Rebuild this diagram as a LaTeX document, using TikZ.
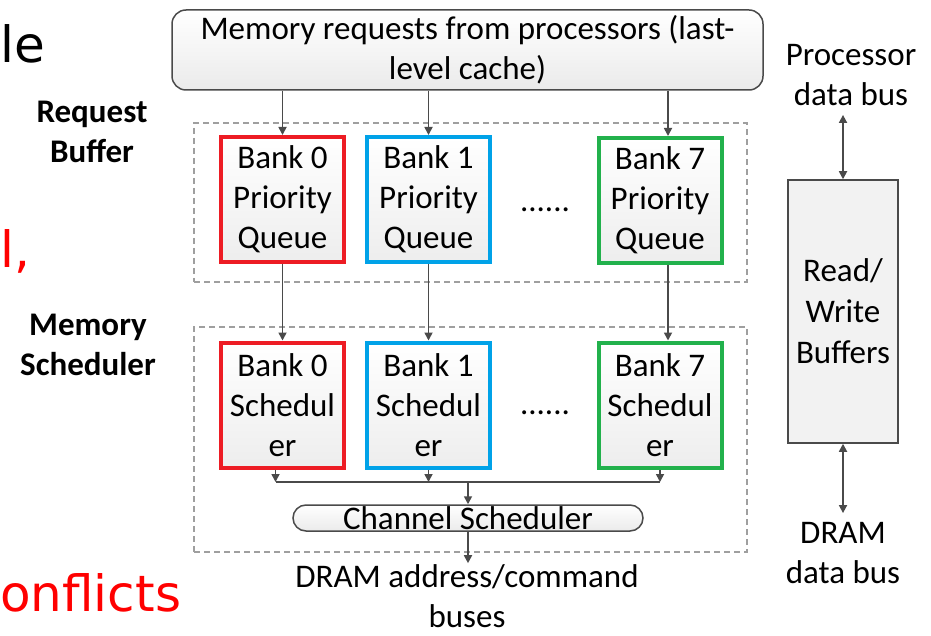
\documentclass[tikz,border=0pt]{standalone}
\usepackage{fontspec}
\usepackage{tikz}
\usepackage{xcolor}
\usetikzlibrary{arrows.meta}
\setmainfont{Carlito}
\newfontfamily\slidefont{DejaVu Sans}
\definecolor{bankred}{HTML}{ED1C24}
\definecolor{bankblue}{HTML}{00A2E8}
\definecolor{bankgreen}{HTML}{22B14C}
\definecolor{wiregray}{HTML}{4A4A4A}
\tikzset{
    bank-box/.style = {draw=#1, line width=4pt, top color=white, bottom color=gray!14, rectangle, minimum width=123pt, minimum height=125pt, inner sep=0pt, align=center, font=\fontsize{33}{40}\selectfont},
    top-box/.style = {draw=wiregray, line width=1.5pt, top color=white, bottom color=gray!16, rectangle, rounded corners=14pt, minimum width=591pt, minimum height=80pt, inner sep=0pt, align=center, font=\fontsize{33}{40}\selectfont},
    pill-box/.style = {draw=wiregray, line width=1.5pt, top color=white, bottom color=gray!16, rectangle, rounded corners=13pt, minimum width=350pt, text height=24pt, text depth=2pt, inner sep=0pt, font=\fontsize{33}{40}\selectfont},
    buffer-box/.style = {draw=wiregray, line width=1.5pt, fill=gray!10, rectangle, minimum width=110pt, minimum height=263pt, inner sep=0pt, align=center, font=\fontsize{33}{41}\selectfont},
    dash-frame/.style = {draw=gray!75, line width=1.2pt, dash pattern=on 6pt off 4pt, rectangle, inner sep=0pt},
    side-label/.style = {align=center, inner sep=0pt, font=\fontsize{33}{40}\selectfont\bfseries},
    bus-label/.style = {align=center, inner sep=9pt, font=\fontsize{33}{40}\selectfont},
    link/.style = {draw=wiregray, line width=1.7pt, -{Triangle[length=8pt,width=8pt]}},
    both-link/.style = {draw=wiregray, line width=1.7pt, {Triangle[length=8pt,width=8pt]}-{Triangle[length=8pt,width=8pt]}},
    wire/.style = {draw=wiregray, line width=1.7pt},
    slide-text/.style = {anchor=base west, inner sep=0pt, font=\fontsize{50}{56}\slidefont},
}
\begin{document}
\begin{tikzpicture}[x=1pt, y=-1pt]
\useasboundingbox (0,0) rectangle (931,636);

\node[slide-text] (frag-le) at (0,63) {le};
\node[slide-text, text=red] (frag-l) at (0,267) {l,};
\node[slide-text, text=red] (frag-conf) at (0,611) {onflicts};

\node[dash-frame, minimum width=553pt, minimum height=159pt] (rb-frame) at (470.5,202.5) {};
\node[dash-frame, minimum width=553pt, minimum height=225pt] (ms-frame) at (470.5,439.5) {};

\node[top-box] (req) at (467.5,50) {Memory requests from processors (last-\\level cache)};

\node[side-label] (rb-label) at (92,132) {Request\\Buffer};
\node[side-label] (ms-label) at (88,345) {Memory\\Scheduler};

\node[bank-box=bankred] (pq0) at (282.5,199.5) {Bank 0\\Priority\\Queue};
\node[bank-box=bankblue] (pq1) at (428.5,199.5) {Bank 1\\Priority\\Queue};
\node[bank-box=bankgreen] (pq7) at (660,200.5) {Bank 7\\Priority\\Queue};
\node[font=\fontsize{33}{40}\selectfont, inner sep=0pt] (pq-dots) at (545,210) {......};

\node[bank-box=bankred] (sched0) at (282.5,405) {Bank 0\\Schedul\\er};
\node[bank-box=bankblue] (sched1) at (428.5,405) {Bank 1\\Schedul\\er};
\node[bank-box=bankgreen] (sched7) at (660,405) {Bank 7\\Schedul\\er};
\node[font=\fontsize{33}{40}\selectfont, inner sep=0pt] (sched-dots) at (545,413) {......};

\node[pill-box] (chs) at (468,518) {Channel Scheduler};
\node[bus-label, inner sep=1pt] (cmd-bus) at (467,596) {DRAM address/command\\buses};

\node[buffer-box] (rw) at (843,311.5) {Read/\\Write\\Buffers};
\node[bus-label] (proc-bus) at (851,75) {Processor\\data bus};
\node[bus-label] (dram-bus) at (843,553) {DRAM\\data bus};

\draw[link] (pq0.north |- req.south) -- (pq0.north);
\draw[link] (pq1.north |- req.south) -- (pq1.north);
\draw[link] ([xshift=8pt]pq7.north |- req.south) -- ([xshift=8pt]pq7.north);

\draw[link] (pq0.south) -- (sched0.north);
\draw[link] (pq1.south) -- (sched1.north);
\draw[link] ([xshift=8pt]pq7.south) -- ([xshift=8pt]sched7.north);

\coordinate (bus-c) at (chs.north |- 0,482);
\draw[link] ([xshift=-7pt]sched0.south) -- ([xshift=-7pt]sched0.south |- bus-c);
\draw[link] (sched1.south) -- (sched1.south |- bus-c);
\draw[link] (sched7.south) -- (sched7.south |- bus-c);
\draw[wire] ([xshift=-7pt]sched0.south |- bus-c) -- (sched7.south |- bus-c);
\draw[link] (bus-c) -- (chs.north);
\draw[link] (chs.south) -- (chs.south |- cmd-bus.north);

\draw[both-link] (rw.north |- proc-bus.south) -- (rw.north);
\draw[both-link] (rw.south) -- (rw.south |- dram-bus.north);
\end{tikzpicture}
\end{document}
